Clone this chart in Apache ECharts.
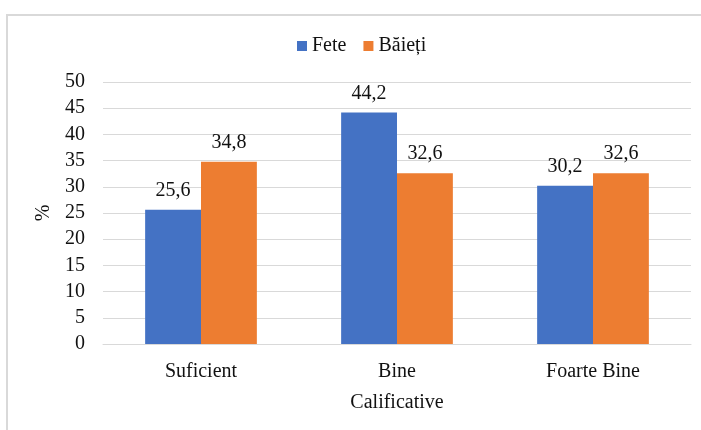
<!DOCTYPE html>
<html>
<head>
<meta charset="utf-8">
<script src="https://cdn.jsdelivr.net/npm/echarts@6/dist/echarts.min.js"></script>
<style>
  html, body { margin: 0; padding: 0; background: #fff; }
  #chart { width: 701px; height: 430px; }
</style>
</head>
<body>
<div id="chart"></div>
<script>
// Grades (calificative) by gender, in percent
const categories = ['Suficient', 'Bine', 'Foarte Bine'];
const fete = [25.6, 44.2, 30.2];
const baieti = [34.8, 32.6, 32.6];
const yTicks = { min: 0, max: 50, interval: 5 };

const FONT = '"Liberation Serif", "Times New Roman", serif';
const TEXT = '#111';
const GRID = '#d9d9d9';
const FS = 20;

const commaLabel = p => String(p.value).replace('.', ',');

const chart = echarts.init(document.getElementById('chart'), null, { renderer: 'canvas' });
chart.setOption({
  animation: false,
  textStyle: { fontFamily: FONT, color: TEXT },
  graphic: [{
    type: 'rect',
    shape: { x: 7, y: 15, width: 760, height: 460 },
    style: { fill: 'none', stroke: GRID, lineWidth: 2 },
    silent: true
  }],
  legend: {
    left: 292,
    top: 31,
    itemWidth: 10,
    itemHeight: 10,
    itemGap: 17,
    icon: 'rect',
    textStyle: { fontFamily: FONT, fontSize: FS, color: TEXT },
    data: ['Fete', 'Băieți']
  },
  grid: { left: 103, right: 10, top: 82, bottom: 86, containLabel: false },
  xAxis: {
    type: 'category',
    data: categories,
    name: 'Calificative',
    nameLocation: 'middle',
    nameGap: 49,
    nameTextStyle: { fontFamily: FONT, fontSize: FS, color: TEXT },
    axisTick: { show: false },
    axisLine: { lineStyle: { color: GRID, width: 1 } },
    axisLabel: { fontFamily: FONT, fontSize: FS, color: TEXT, margin: 18 }
  },
  yAxis: {
    type: 'value',
    min: yTicks.min,
    max: yTicks.max,
    interval: yTicks.interval,
    name: '%',
    nameLocation: 'middle',
    nameRotate: 90,
    nameGap: 47,
    nameTextStyle: { fontFamily: FONT, fontSize: FS, color: TEXT },
    axisLine: { show: false },
    axisTick: { show: false },
    axisLabel: { fontFamily: FONT, fontSize: FS, color: TEXT, margin: 18 },
    splitLine: { lineStyle: { color: GRID, width: 1 } }
  },
  series: [
    {
      name: 'Fete',
      type: 'bar',
      data: fete,
      barGap: '0%',
      barCategoryGap: '43%',
      itemStyle: { color: '#4472C4' },
      label: { show: true, position: 'top', distance: 9, formatter: commaLabel,
               fontFamily: FONT, fontSize: FS, color: TEXT }
    },
    {
      name: 'Băieți',
      type: 'bar',
      data: baieti,
      barGap: '0%',
      barCategoryGap: '43%',
      itemStyle: { color: '#ED7D31' },
      label: { show: true, position: 'top', distance: 9, formatter: commaLabel,
               fontFamily: FONT, fontSize: FS, color: TEXT }
    }
  ]
});
</script>
</body>
</html>
